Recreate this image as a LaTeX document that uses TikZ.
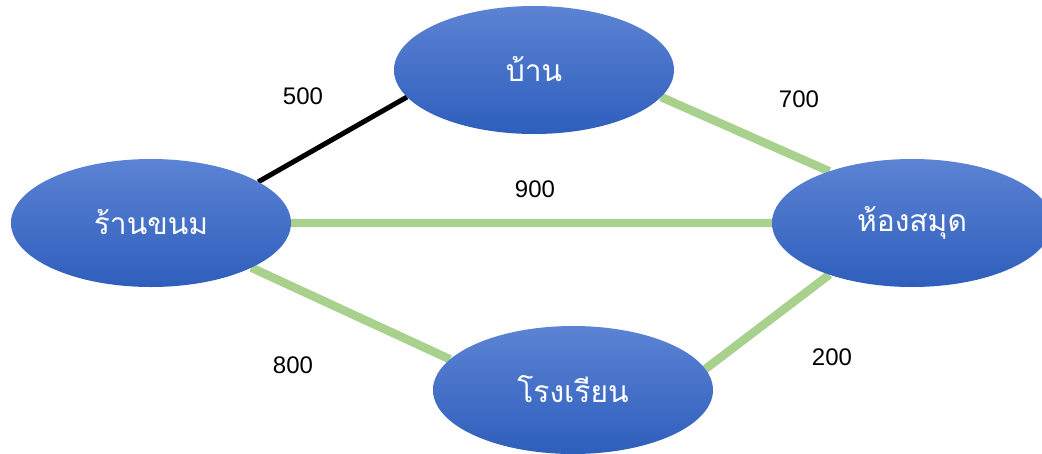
\documentclass[tikz,border=0pt]{standalone}
\usepackage{fontspec}
\setmainfont{Liberation Sans}
\newfontfamily\thaifont[Script=Thai]{Loma}
\usetikzlibrary{shapes.geometric,backgrounds}
\definecolor{nodetop}{RGB}{92,131,212}
\definecolor{nodebot}{RGB}{46,94,188}
\definecolor{edgegreen}{RGB}{169,209,142}
\begin{document}
\begin{tikzpicture}[x=1pt,y=-1pt,
  place/.style={ellipse, minimum width=280pt, minimum height=128pt, inner sep=0pt, outer sep=0pt,
    top color=nodetop, bottom color=nodebot, text=white, font=\thaifont\fontsize{30}{34}\selectfont},
  greenedge/.style={draw=edgegreen, line width=8.5pt},
  blackedge/.style={draw=black, line width=5pt},
  dist/.style={font=\fontsize{24}{28}\selectfont, inner sep=0pt}]
\useasboundingbox (0,0) rectangle (1042,453);
\clip (0,0) rectangle (1042,453);
\node[place] (home) at (534,70) {\raisebox{3pt}{บ้าน}};
\node[place] (shop) at (151,223) {\raisebox{3pt}{ร้านขนม}};
\node[place] (lib) at (912,223) {\raisebox{3pt}{ห้องสมุด}};
\node[place] (school) at (573,390) {\raisebox{3pt}{โรงเรียน}};
\begin{scope}[on background layer]
\draw[blackedge] (shop.21.6) -- (home.192.5);
\draw[greenedge] (home.348) -- (lib.148.6);
\draw[greenedge] (shop.east) -- (lib.west);
\draw[greenedge] (shop.336.7) -- (school.166.5);
\draw[greenedge] (school.9.8) -- (lib.212.9);
\end{scope}
\node[dist] (d500) at (303,96) {500};
\node[dist] (d700) at (799,99) {700};
\node[dist] (d900) at (535,189) {900};
\node[dist] (d800) at (293,365) {800};
\node[dist] (d200) at (832,357) {200};
\end{tikzpicture}
\end{document}
